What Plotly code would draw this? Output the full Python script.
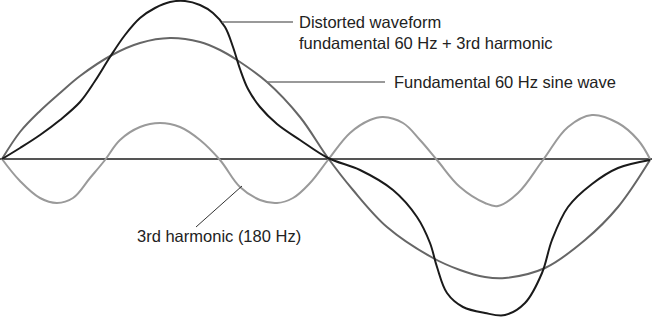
import plotly.graph_objects as go

# Values (x = time position, y = amplitude)
fund_x = [2, 20, 40, 60, 80, 112, 140, 170, 200, 220, 237, 267, 300, 328, 353, 387, 433, 460, 485, 505, 545, 585, 618, 650]
fund_y = [0, 27, 48, 66, 83, 104, 116, 121, 117, 109, 99, 77, 42, 1, -31, -68, -99, -111, -118, -119, -109, -81, -48, -1]

dist_x = [2, 20, 40, 60, 80, 95, 110, 125, 140, 155, 170, 185, 200, 213, 225, 233, 240, 248, 260, 277, 300, 328, 360, 393, 417, 430, 437, 447, 463, 485, 505, 525, 542, 552, 568, 592, 618, 650]
dist_y = [0, 11, 24, 39, 57, 78, 102, 124, 141, 151, 157, 158, 154, 146, 132, 112, 90, 70, 52, 35, 19, 1, -11, -31, -58, -84, -108, -134, -148, -154, -156, -144, -114, -81, -48, -25, -9, -1]

harm_x = [2, 20, 40, 57, 73, 90, 105, 120, 140, 160, 180, 200, 220, 240, 260, 277, 293, 310, 328, 350, 370, 383, 403, 420, 437, 460, 485, 498, 518, 543, 568, 592, 618, 638, 650]
harm_y = [0, -22, -39, -44, -39, -19, -1, 19, 32, 36, 32, 19, -1, -28, -41, -44, -39, -24, -1, 26, 39, 42, 36, 19, -1, -28, -44, -47, -34, -1, 32, 44, 36, 19, 0]

labels = ["Distorted waveform", "fundamental 60 Hz + 3rd harmonic",
          "Fundamental 60 Hz sine wave", "3rd harmonic (180 Hz)"]

FONT = "Liberation Sans, Arial, Helvetica, sans-serif"

fig = go.Figure()
fig.add_trace(go.Scatter(x=harm_x, y=harm_y, mode="lines",
                         line=dict(color="#9a9a9a", width=2, shape="spline", smoothing=1.1),
                         hoverinfo="skip"))
fig.add_trace(go.Scatter(x=fund_x, y=fund_y, mode="lines",
                         line=dict(color="#666666", width=2, shape="spline", smoothing=1.0),
                         hoverinfo="skip"))
fig.add_trace(go.Scatter(x=dist_x, y=dist_y, mode="lines",
                         line=dict(color="#1a1a1a", width=2, shape="spline", smoothing=1.0),
                         hoverinfo="skip"))

# horizontal axis line
fig.add_shape(type="line", x0=0, x1=652, y0=0, y1=0, line=dict(color="#555555", width=2), layer="below")
# leader lines
fig.add_shape(type="line", x0=222, x1=293, y0=137, y1=137, line=dict(color="#777777", width=1.5))
fig.add_shape(type="line", x0=266, x1=385, y0=77, y1=77, line=dict(color="#777777", width=1.5))
fig.add_shape(type="line", x0=196, x1=242, y0=-68, y1=-27, line=dict(color="#333333", width=1))

ann = [(297, 137, labels[0]), (297, 116, labels[1]), (392, 77, labels[2]), (135, -77, labels[3])]
for x, y, t in ann:
    fig.add_annotation(x=x, y=y, text=t, showarrow=False, xanchor="left", yanchor="middle",
                       font=dict(family=FONT, size=16.5, color="#222222"))

fig.update_layout(width=652, height=317, margin=dict(l=0, r=0, t=0, b=0),
                  paper_bgcolor="white", plot_bgcolor="white", showlegend=False)
fig.update_xaxes(range=[0, 652], visible=False, fixedrange=True)
fig.update_yaxes(range=[-158, 159], visible=False, fixedrange=True)

fig.write_html("out.html")
